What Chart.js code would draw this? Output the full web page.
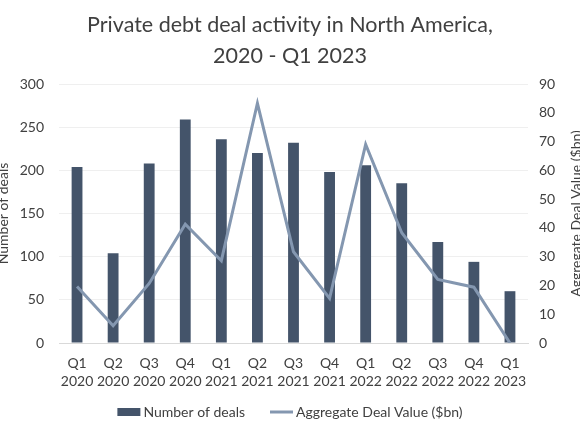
<!DOCTYPE html>
<html><head><meta charset="utf-8">
<script src="https://cdn.jsdelivr.net/npm/chart.js@4.4.0/dist/chart.umd.min.js"></script>
<style>html,body{margin:0;padding:0;background:#fff;}#wrap{width:580px;height:435px;position:relative}</style>
</head><body><div id="wrap"><canvas id="c"></canvas></div>
<script>
const categories = [["Q1","2020"],["Q2","2020"],["Q3","2020"],["Q4","2020"],["Q1","2021"],["Q2","2021"],["Q3","2021"],["Q4","2021"],["Q1","2022"],["Q2","2022"],["Q3","2022"],["Q4","2022"],["Q1","2023"]];
const dealCounts = [204,104,208,259,236,220,232,198,206,185,117,94,60];
const dealValues = [19.6,6,20.7,41.3,28.6,83.3,31.7,15.5,69,38.3,22.1,19.4,0];
const chartTitle = ["Private debt deal activity in North America,","2020 - Q1 2023"];
const leftAxisTitle = "Number of deals";
const rightAxisTitle = "Aggregate Deal Value ($bn)";
const leftAxisMax = 300, leftAxisStep = 50;
const rightAxisMax = 90, rightAxisStep = 10;

const FONT = "Lato";
const TEXT = "#404040";
const BAR = "#44546A";
const LINE = "#8497B0";

const decor = {
  id: 'decor',
  afterDraw(chart) {
    const ctx = chart.ctx;
    const ca = chart.chartArea;
    ctx.save();
    ctx.fillStyle = TEXT;
    // title
    ctx.font = "21.5px " + FONT;
    ctx.textAlign = "center";
    ctx.textBaseline = "alphabetic";
    ctx.fillText(chartTitle[0], 290, 32);
    ctx.fillText(chartTitle[1], 290, 63);
    // axis titles
    ctx.font = "14px " + FONT;
    ctx.textBaseline = "middle";
    const cy = (ca.top + ca.bottom) / 2;
    ctx.save(); ctx.translate(3, cy); ctx.rotate(-Math.PI/2); ctx.fillText(leftAxisTitle, 0, 0); ctx.restore();
    ctx.save(); ctx.translate(576, cy); ctx.rotate(-Math.PI/2); ctx.fillText(rightAxisTitle, 0, 0); ctx.restore();
    // legend
    const bar = chart.data.datasets.find(d => d.type === 'bar');
    const line = chart.data.datasets.find(d => d.type === 'line');
    ctx.font = "14px " + FONT;
    ctx.textAlign = "left";
    const sw = 23, gap = 3, itemGap = 25, ly = 412;
    const w0 = ctx.measureText(bar.label).width;
    const w1 = ctx.measureText(line.label).width;
    const total = sw + gap + w0 + itemGap + sw + gap + w1;
    let x = 290 - total / 2;
    ctx.fillStyle = bar.backgroundColor;
    ctx.fillRect(x, ly - 4, sw, 8);
    ctx.fillStyle = TEXT;
    ctx.fillText(bar.label, x + sw + gap, ly);
    x += sw + gap + w0 + itemGap;
    ctx.strokeStyle = line.borderColor;
    ctx.lineWidth = 3;
    ctx.beginPath(); ctx.moveTo(x, ly); ctx.lineTo(x + sw, ly); ctx.stroke();
    ctx.fillText(line.label, x + sw + gap, ly);
    ctx.restore();
  }
};

new Chart(document.getElementById('c'), {
  data: {
    labels: categories,
    datasets: [
      { type: 'line', label: 'Aggregate Deal Value ($bn)', data: dealValues, yAxisID: 'y1',
        borderColor: LINE, backgroundColor: LINE, borderWidth: 3, pointRadius: 0, tension: 0, order: 0 },
      { type: 'bar', label: 'Number of deals', data: dealCounts, yAxisID: 'y',
        backgroundColor: BAR, barPercentage: 0.3, categoryPercentage: 1, order: 1 }
    ]
  },
  plugins: [decor],
  options: {
    responsive: true, maintainAspectRatio: false, animation: false,
    layout: { padding: { top: 84, left: 0, right: 0, bottom: 0 } },
    plugins: { legend: { display: false }, title: { display: false }, tooltip: { enabled: false } },
    scales: {
      x: {
        grid: { display: false, drawTicks: false },
        border: { color: '#d9d9d9', width: 1 },
        ticks: { color: TEXT, font: { family: FONT, size: 14, lineHeight: 1.3 }, padding: 11, maxRotation: 0, autoSkip: false },
        afterFit(s) { s.height = 92; }
      },
      y: {
        position: 'left', min: 0, max: leftAxisMax,
        grid: { color: '#efefef', drawTicks: false },
        border: { display: false },
        ticks: { stepSize: leftAxisStep, color: TEXT, font: { family: FONT, size: 14 }, padding: 15 },
        afterFit(s) { s.width = 59; }
      },
      y1: {
        position: 'right', min: 0, max: rightAxisMax,
        grid: { display: false, drawTicks: false },
        border: { display: false },
        ticks: { stepSize: rightAxisStep, color: TEXT, font: { family: FONT, size: 14 }, padding: 11 },
        afterFit(s) { s.width = 52; }
      }
    }
  }
});
</script>
</body></html>
